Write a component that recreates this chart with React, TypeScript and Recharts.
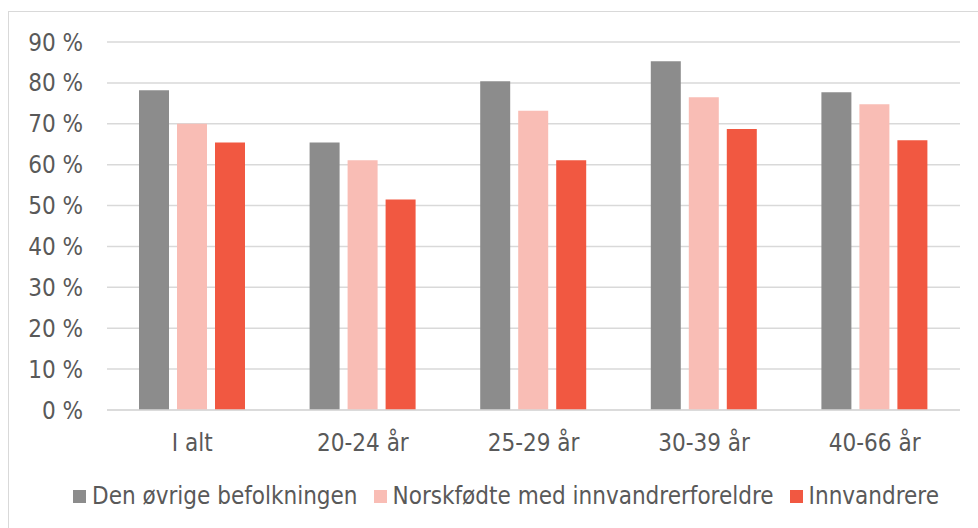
import { BarChart, Bar, XAxis, YAxis, CartesianGrid } from 'recharts';

const categories = ['I alt', '20-24 år', '25-29 år', '30-39 år', '40-66 år'];
const ovrige = [78.2, 65.4, 80.4, 85.3, 77.7];
const norskfodte = [70.0, 61.1, 73.2, 76.5, 74.8];
const innvandrere = [65.4, 51.5, 61.1, 68.7, 66.0];
const yTicks = [0, 10, 20, 30, 40, 50, 60, 70, 80, 90];

const series = [
  { key: 'ovrige', name: 'Den øvrige befolkningen', color: '#8c8c8c', values: ovrige },
  { key: 'norsk', name: 'Norskfødte med innvandrerforeldre', color: '#f9bdb5', values: norskfodte },
  { key: 'innv', name: 'Innvandrere', color: '#f15841', values: innvandrere },
];

const FONT = '"DejaVu Sans Condensed", "DejaVu Sans", sans-serif';
const TEXT = '#595959';

export default function App() {
  const data = categories.map((cat, i) => {
    const row: any = { name: cat };
    series.forEach(s => { row[s.key] = s.values[i]; });
    return row;
  });

  return (
    <div style={{ position: 'absolute', left: 0, top: 0, width: 978, height: 528, overflow: 'hidden', background: '#fff', fontFamily: FONT }}>
      {/* chart frame, cropped at right and bottom */}
      <div style={{ position: 'absolute', left: 8, top: 11, width: 1200, height: 800, border: '1.5px solid #d9d9d9' }} />
      <div style={{ position: 'absolute', left: 0, top: 0 }}>
        <BarChart
          width={978}
          height={528}
          data={data}
          margin={{ top: 42, right: 18, bottom: 88, left: 0 }}
          barSize={30}
          barGap={8}
        >
          <CartesianGrid vertical={false} stroke="#d9d9d9" strokeWidth={1.5} />
          <XAxis
            dataKey="name"
            height={30}
            axisLine={{ stroke: '#d9d9d9', strokeWidth: 1.5 }}
            tickLine={false}
            tickSize={0}
            tickMargin={24}
            tick={{ fill: TEXT, fontSize: 24, fontFamily: FONT }}
            interval={0}
          />
          <YAxis
            width={107}
            domain={[0, 90]}
            ticks={yTicks}
            axisLine={false}
            tickLine={false}
            tickSize={0}
            tickMargin={24}
            tickFormatter={(v: number) => `${v} %`}
            tick={{ fill: TEXT, fontSize: 24, fontFamily: FONT }}
          />
          {series.map(s => (
            <Bar key={s.key} dataKey={s.key} name={s.name} fill={s.color} isAnimationActive={false} />
          ))}
        </BarChart>
      </div>
      <div style={{ position: 'absolute', left: 73, top: 481, display: 'flex', alignItems: 'center', whiteSpace: 'nowrap' }}>
        {series.map((s, i) => (
          <div key={s.key} style={{ display: 'flex', alignItems: 'center', marginLeft: i === 0 ? 0 : 16 }}>
            <div style={{ width: 13, height: 13, background: s.color, marginRight: 6 }} />
            <span style={{ color: TEXT, fontSize: 24, lineHeight: '30px' }}>{s.name}</span>
          </div>
        ))}
      </div>
    </div>
  );
}
